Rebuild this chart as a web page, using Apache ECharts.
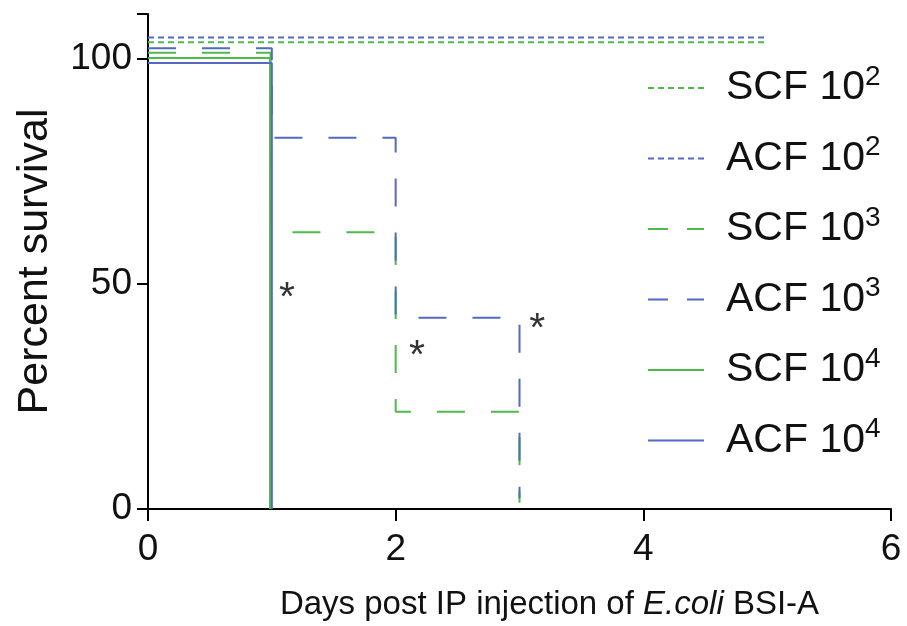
<!DOCTYPE html>
<html>
<head>
<meta charset="utf-8">
<script src="https://cdn.jsdelivr.net/npm/echarts@6/dist/echarts.min.js"></script>
<style>html,body{margin:0;padding:0;background:#fff}#c{width:907px;height:626px}</style>
</head>
<body>
<div id="c"></div>
<script>
// ---- data (step survival curves, includes plotting offsets) ----
var names = ['SCF 10^2', 'ACF 10^2', 'SCF 10^3', 'ACF 10^3', 'SCF 10^4', 'ACF 10^4'];
var scf2_x = [0, 5];      var scf2_y = [103.7, 103.7];
var acf2_x = [0, 5];      var acf2_y = [104.8, 104.8];
var scf3_x = [0, 0.99, 2, 3];   var scf3_y = [101.4, 61.5, 21.6, 1.4];
var acf3_x = [0, 1, 2, 3];      var acf3_y = [102.4, 82.5, 42.5, 2.4];
var scf4_x = [0, 0.985];  var scf4_y = [100.2, 0];
var acf4_x = [0, 1];      var acf4_y = [99.1, 0];
var star_x = [1.123, 2.172, 3.143];
var star_y = [48.8, 35.9, 41.8];
var xTicks = [0, 2, 4, 6];
var yTicks = [0, 50, 100];

var GREEN = '#4cbb4c', BLUE = '#5468c4';
function pairs(xs, ys) { return xs.map(function (x, i) { return [x, ys[i]]; }); }

var styles = [
  { color: GREEN, type: [6, 4] },
  { color: BLUE, type: [6, 4] },
  { color: GREEN, type: [28, 26] },
  { color: BLUE, type: [28, 26] },
  { color: GREEN, type: 'solid' },
  { color: BLUE, type: 'solid' }
];
var xs = [scf2_x, acf2_x, scf3_x, acf3_x, scf4_x, acf4_x];
var ys = [scf2_y, acf2_y, scf3_y, acf3_y, scf4_y, acf4_y];
var legendDash = [[6, 4], [6, 4], [20, 19], [20, 19], 'solid', 'solid'];

var series = names.map(function (n, i) {
  return {
    name: n, type: 'line', step: 'end', showSymbol: false, symbol: 'none',
    data: pairs(xs[i], ys[i]), color: styles[i].color,
    lineStyle: { color: styles[i].color, width: 2, type: styles[i].type },
    animation: false, silent: true
  };
});
series.push({
  type: 'scatter', data: pairs(star_x, star_y), symbolSize: 0, silent: true,
  label: { show: true, position: 'inside', formatter: '*', color: '#000',
    fontFamily: 'Liberation Sans, Arial, sans-serif', fontSize: 41, offset: [0, 9] },
  animation: false
});

var FONT = 'Liberation Sans, Arial, sans-serif';
var chart = echarts.init(document.getElementById('c'), null, { renderer: 'canvas' });
chart.setOption({
  backgroundColor: '#fff',
  animation: false,
  grid: { left: 148, right: 16, top: 14, bottom: 116, containLabel: false },
  legend: {
    orient: 'vertical', left: 642, top: 58, itemWidth: 56, itemHeight: 14, itemGap: 25,
    selectedMode: false,
    itemStyle: { opacity: 0 },
    data: names.map(function (n, i) {
      return { name: n, itemStyle: { opacity: 0 }, lineStyle: { color: styles[i].color, width: 2, type: legendDash[i], opacity: 1 } };
    }),
    formatter: function (n) { var p = n.split('^'); return '{a|' + p[0] + '}{s|' + p[1] + '}'; },
    textStyle: {
      rich: {
        a: { fontFamily: FONT, fontSize: 41, lineHeight: 50, color: '#111', padding: [0, 0, 0, 17] },
        s: { fontFamily: FONT, fontSize: 28, lineHeight: 30, verticalAlign: 'top', color: '#111' }
      }
    }
  },
  xAxis: {
    type: 'value', min: 0, max: 6, interval: 2,
    name: '{n|Days post IP injection of }{i|E.coli}{n| BSI-A}', nameLocation: 'middle', nameGap: 79,
    nameTextStyle: { padding: [0, 0, 0, 60], rich: {
      n: { fontFamily: FONT, fontSize: 33, color: '#111' },
      i: { fontFamily: FONT, fontSize: 33, fontStyle: 'italic', color: '#111' } } },
    axisLine: { show: true, onZero: false, lineStyle: { color: '#000', width: 2 } },
    axisTick: { show: true, length: 12, lineStyle: { color: '#000', width: 2 } },
    axisLabel: { fontFamily: FONT, fontSize: 37, color: '#111', margin: 22,
      formatter: function (v) { return xTicks.indexOf(v) >= 0 ? String(v) : ''; } },
    splitLine: { show: false }
  },
  yAxis: {
    type: 'value', min: 0, max: 110, interval: 50,
    name: 'Percent survival', nameLocation: 'middle', nameGap: 91, nameRotate: 90,
    nameTextStyle: { fontFamily: FONT, fontSize: 43, color: '#111' },
    axisLine: { show: true, onZero: false, lineStyle: { color: '#000', width: 2 } },
    axisTick: { show: true, length: 11, lineStyle: { color: '#000', width: 2 } },
    axisLabel: { fontFamily: FONT, fontSize: 37, color: '#111', margin: 16,
      formatter: function (v) { return yTicks.indexOf(v) >= 0 ? String(v) : ''; } },
    splitLine: { show: false }
  },
  series: series
});
</script>
</body>
</html>
